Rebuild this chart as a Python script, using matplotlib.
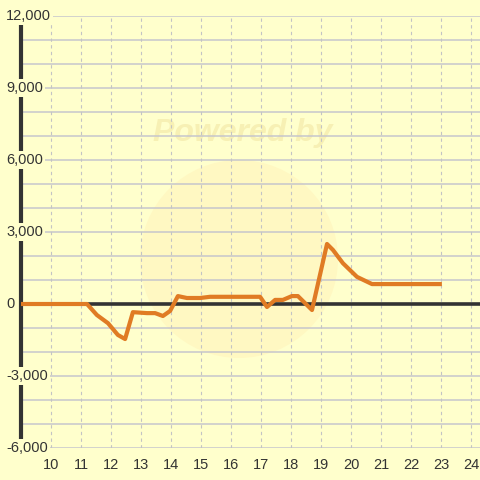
import matplotlib
matplotlib.use("Agg")
import matplotlib.pyplot as plt
import matplotlib.transforms as mtransforms
from matplotlib.patches import Circle

# data
hours = [9, 11.2, 11.53, 11.9, 12.23, 12.47, 12.73, 13.2, 13.47, 13.73, 13.97,
         14.23, 14.53, 14.97, 15.3, 16.97, 17.2, 17.47, 17.73, 18.03, 18.23,
         18.7, 19.2, 19.4, 19.73, 20.2, 20.7, 23.03]
values = [0, 0, -460, -800, -1290, -1460, -340, -380, -380, -500, -290,
          330, 250, 250, 300, 300, -125, 170, 170, 330, 330,
          -250, 2500, 2250, 1700, 1130, 830, 830]

x_ticks = list(range(10, 25))
y_major = [12000, 9000, 6000, 3000, 0, -3000, -6000]
y_minor = list(range(-6000, 12001, 1000))

bg = '#ffffcc'
txt = '#333333'

plt.rcParams['font.family'] = ['Liberation Sans', 'DejaVu Sans']

fig = plt.figure(figsize=(4.8, 4.8), dpi=100, facecolor=bg)
ax = fig.add_axes([21/480, 32/480, 459/480, 432/480])
ax.set_facecolor(bg)
ax.set_xlim(9, 24.3)
ax.set_ylim(-6000, 12000)

# faint watermark, under the grid
ax.add_patch(Circle((239/480, 1-259/480), 99/480, transform=fig.transFigure,
                    facecolor='#fff8c2', edgecolor='none', zorder=0.5, clip_on=False))
ax.text(243/480, 1-133/480, 'Powered by', transform=fig.transFigure,
        ha='center', va='center', fontsize=23, fontweight='bold',
        fontstyle='italic', color='#f7f0b4', zorder=0.6)

# grid
for v in y_minor:
    ax.axhline(v, color='#c6c6cc', lw=1.1, zorder=1)
for xv in x_ticks:
    ax.axvline(xv, color='#c4c4c4', lw=0.8, ls=(0, (3, 3)), zorder=1)

ax.axhline(0, color=txt, lw=2.6, zorder=2)

for s in ['top', 'right', 'bottom']:
    ax.spines[s].set_visible(False)
ax.spines['left'].set_color(txt)
ax.spines['left'].set_linewidth(3)
ax.spines['left'].set_zorder(2.5)

ax.plot(hours, values, color='#e07b24', lw=3, solid_joinstyle='round',
        solid_capstyle='butt', zorder=4)

ax.set_xticks(x_ticks)
ax.set_xticklabels([str(t) for t in x_ticks])
ax.tick_params(axis='x', length=0, pad=7, labelsize=10.5, labelcolor=txt)
ax.set_yticks([])

trans = mtransforms.blended_transform_factory(fig.transFigure, ax.transData)
for v in y_major:
    ax.text(6/480, v, '{:,}'.format(v), transform=trans, ha='left', va='center',
            fontsize=10.5, color=txt, zorder=5, clip_on=False,
            bbox=dict(boxstyle='square,pad=0.15', facecolor=bg, edgecolor='none'))

fig.savefig('out.png', dpi=100, facecolor=bg)
